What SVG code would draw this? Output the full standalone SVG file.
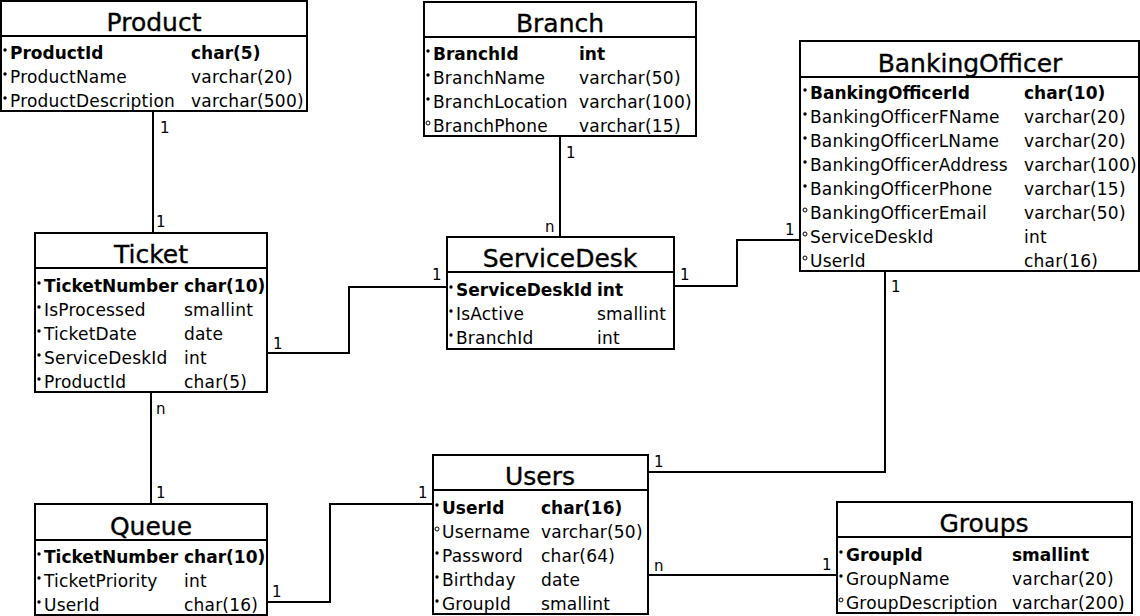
<svg xmlns="http://www.w3.org/2000/svg" width="1140" height="616" viewBox="0 0 1140 616">
<style>
.box{fill:#fff;stroke:#000;stroke-width:2}
.div{stroke:#000;stroke-width:2}
.conn{fill:none;stroke:#000;stroke-width:2}
text{font-family:"DejaVu Sans","Liberation Sans",sans-serif;fill:#000}
.t{font-size:25px;text-anchor:middle;stroke:#000;stroke-width:0.35}
.a{font-size:17px;letter-spacing:0.2px}
.pk{font-weight:bold;letter-spacing:0}
.l{font-size:15px}
.m{fill:#000}
.o{fill:none;stroke:#000;stroke-width:1}
</style>
<rect width="1140" height="616" fill="#fff"/>
<g id="connectors">
<path class="conn" d="M153,111V233"/>
<path class="conn" d="M560,136V237"/>
<path class="conn" d="M267,353H349V287H446"/>
<path class="conn" d="M674,286H737V240H800"/>
<path class="conn" d="M151,392V504"/>
<path class="conn" d="M267,602H330V504H433"/>
<path class="conn" d="M648,472H885V272"/>
<path class="conn" d="M648,575H837"/>
<text class="l" x="160" y="133">1</text>
<text class="l" x="156" y="227">1</text>
<text class="l" x="566" y="158">1</text>
<text class="l" x="545" y="232">n</text>
<text class="l" x="273" y="349">1</text>
<text class="l" x="432" y="280">1</text>
<text class="l" x="680" y="280">1</text>
<text class="l" x="785" y="235">1</text>
<text class="l" x="156" y="414">n</text>
<text class="l" x="156" y="498">1</text>
<text class="l" x="272" y="597">1</text>
<text class="l" x="418" y="498">1</text>
<text class="l" x="654" y="467">1</text>
<text class="l" x="891" y="292">1</text>
<text class="l" x="654" y="571">n</text>
<text class="l" x="822" y="570">1</text>
</g>
<g id="Product">
<rect class="box" x="1" y="1" width="306" height="110"/>
<line class="div" x1="1" y1="36" x2="307" y2="36"/>
<text class="t" x="154" y="31">Product</text>
<circle class="m" cx="5" cy="50" r="1.7"/><text class="a pk" x="10" y="59">ProductId</text><text class="a pk" x="191" y="59">char(5)</text>
<circle class="m" cx="5" cy="74" r="1.7"/><text class="a" x="10" y="83">ProductName</text><text class="a" x="191" y="83">varchar(20)</text>
<circle class="m" cx="5" cy="98" r="1.7"/><text class="a" x="10" y="107">ProductDescription</text><text class="a" x="191" y="107">varchar(500)</text>
</g>
<g id="Branch">
<rect class="box" x="424" y="2" width="272" height="134"/>
<line class="div" x1="424" y1="37" x2="696" y2="37"/>
<text class="t" x="560" y="32">Branch</text>
<circle class="m" cx="428" cy="51" r="1.7"/><text class="a pk" x="433" y="60">BranchId</text><text class="a pk" x="579" y="60">int</text>
<circle class="m" cx="428" cy="75" r="1.7"/><text class="a" x="433" y="84">BranchName</text><text class="a" x="579" y="84">varchar(50)</text>
<circle class="m" cx="428" cy="99" r="1.7"/><text class="a" x="433" y="108">BranchLocation</text><text class="a" x="579" y="108">varchar(100)</text>
<circle class="o" cx="428" cy="123" r="2"/><text class="a" x="433" y="132">BranchPhone</text><text class="a" x="579" y="132">varchar(15)</text>
</g>
<g id="BankingOfficer">
<rect class="box" x="800" y="41" width="339" height="230"/>
<line class="div" x1="800" y1="77" x2="1139" y2="77"/>
<text class="t" x="970" y="72">BankingOfficer</text>
<circle class="m" cx="805" cy="90" r="1.7"/><text class="a pk" x="810" y="99">BankingOfficerId</text><text class="a pk" x="1024" y="99">char(10)</text>
<circle class="m" cx="805" cy="114" r="1.7"/><text class="a" x="810" y="123">BankingOfficerFName</text><text class="a" x="1024" y="123">varchar(20)</text>
<circle class="m" cx="805" cy="138" r="1.7"/><text class="a" x="810" y="147">BankingOfficerLName</text><text class="a" x="1024" y="147">varchar(20)</text>
<circle class="m" cx="805" cy="162" r="1.7"/><text class="a" x="810" y="171">BankingOfficerAddress</text><text class="a" x="1024" y="171">varchar(100)</text>
<circle class="m" cx="805" cy="186" r="1.7"/><text class="a" x="810" y="195">BankingOfficerPhone</text><text class="a" x="1024" y="195">varchar(15)</text>
<circle class="o" cx="805" cy="210" r="2"/><text class="a" x="810" y="219">BankingOfficerEmail</text><text class="a" x="1024" y="219">varchar(50)</text>
<circle class="o" cx="805" cy="234" r="2"/><text class="a" x="810" y="243">ServiceDeskId</text><text class="a" x="1024" y="243">int</text>
<circle class="o" cx="805" cy="258" r="2"/><text class="a" x="810" y="267">UserId</text><text class="a" x="1024" y="267">char(16)</text>
</g>
<g id="Ticket">
<rect class="box" x="35" y="233" width="232" height="159"/>
<line class="div" x1="35" y1="268" x2="267" y2="268"/>
<text class="t" x="151" y="263">Ticket</text>
<circle class="m" cx="39" cy="283" r="1.7"/><text class="a pk" x="44" y="292">TicketNumber</text><text class="a pk" x="184" y="292">char(10)</text>
<circle class="m" cx="39" cy="307" r="1.7"/><text class="a" x="44" y="316">IsProcessed</text><text class="a" x="184" y="316">smallint</text>
<circle class="m" cx="39" cy="331" r="1.7"/><text class="a" x="44" y="340">TicketDate</text><text class="a" x="184" y="340">date</text>
<circle class="m" cx="39" cy="355" r="1.7"/><text class="a" x="44" y="364">ServiceDeskId</text><text class="a" x="184" y="364">int</text>
<circle class="m" cx="39" cy="379" r="1.7"/><text class="a" x="44" y="388">ProductId</text><text class="a" x="184" y="388">char(5)</text>
</g>
<g id="ServiceDesk">
<rect class="box" x="447" y="237" width="227" height="112"/>
<line class="div" x1="447" y1="272" x2="674" y2="272"/>
<text class="t" x="560" y="267">ServiceDesk</text>
<circle class="m" cx="451" cy="287" r="1.7"/><text class="a pk" x="456" y="296">ServiceDeskId</text><text class="a pk" x="597" y="296">int</text>
<circle class="m" cx="451" cy="311" r="1.7"/><text class="a" x="456" y="320">IsActive</text><text class="a" x="597" y="320">smallint</text>
<circle class="m" cx="451" cy="335" r="1.7"/><text class="a" x="456" y="344">BranchId</text><text class="a" x="597" y="344">int</text>
</g>
<g id="Queue">
<rect class="box" x="35" y="504" width="232" height="111"/>
<line class="div" x1="35" y1="540" x2="267" y2="540"/>
<text class="t" x="151" y="535">Queue</text>
<circle class="m" cx="39" cy="554" r="1.7"/><text class="a pk" x="44" y="563">TicketNumber</text><text class="a pk" x="184" y="563">char(10)</text>
<circle class="m" cx="39" cy="578" r="1.7"/><text class="a" x="44" y="587">TicketPriority</text><text class="a" x="184" y="587">int</text>
<circle class="m" cx="39" cy="602" r="1.7"/><text class="a" x="44" y="611">UserId</text><text class="a" x="184" y="611">char(16)</text>
</g>
<g id="Users">
<rect class="box" x="433" y="455" width="215" height="159"/>
<line class="div" x1="433" y1="490" x2="648" y2="490"/>
<text class="t" x="540" y="485">Users</text>
<circle class="m" cx="437" cy="505" r="1.7"/><text class="a pk" x="442" y="514">UserId</text><text class="a pk" x="541" y="514">char(16)</text>
<circle class="o" cx="437" cy="529" r="2"/><text class="a" x="442" y="538">Username</text><text class="a" x="541" y="538">varchar(50)</text>
<circle class="m" cx="437" cy="553" r="1.7"/><text class="a" x="442" y="562">Password</text><text class="a" x="541" y="562">char(64)</text>
<circle class="m" cx="437" cy="577" r="1.7"/><text class="a" x="442" y="586">Birthday</text><text class="a" x="541" y="586">date</text>
<circle class="m" cx="437" cy="601" r="1.7"/><text class="a" x="442" y="610">GroupId</text><text class="a" x="541" y="610">smallint</text>
</g>
<g id="Groups">
<rect class="box" x="837" y="502" width="295" height="111"/>
<line class="div" x1="837" y1="537" x2="1132" y2="537"/>
<text class="t" x="984" y="532">Groups</text>
<circle class="m" cx="841" cy="552" r="1.7"/><text class="a pk" x="846" y="561">GroupId</text><text class="a pk" x="1012" y="561">smallint</text>
<circle class="m" cx="841" cy="576" r="1.7"/><text class="a" x="846" y="585">GroupName</text><text class="a" x="1012" y="585">varchar(20)</text>
<circle class="o" cx="841" cy="600" r="2"/><text class="a" x="846" y="609">GroupDescription</text><text class="a" x="1012" y="609">varchar(200)</text>
</g>
</svg>
